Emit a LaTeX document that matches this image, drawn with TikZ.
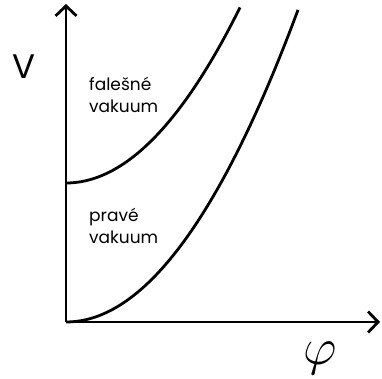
\documentclass[tikz,border=0pt]{standalone}
\usepackage{fix-cm}
\usepackage{graphicx}
\usepackage{fontspec}
\usepackage{tikz}
\usetikzlibrary{positioning,arrows.meta}
\newfontfamily\labelfont{Poppins}
\tikzset{
  axisarrow/.style={-{Straight Barb[length=10pt, width=21pt, line width=2.8pt]}, line width=2.8pt},
  potcurve/.style={line width=2.8pt, smooth},
  textlabel/.style={font=\labelfont\fontsize{17}{22}\selectfont, align=left, anchor=west, inner sep=0pt}
}
\begin{document}
\begin{tikzpicture}[x=1pt, y=1pt]
  \useasboundingbox (-66,-57) rectangle (316,322);
  \coordinate (O) at (0,0);
  \coordinate (ytop) at (0,318);
  \coordinate (xend) at (314,0);
  % axes
  \draw[axisarrow] (O) -- (ytop);
  \draw[axisarrow] (O) -- (xend);
  % potentials
  \draw[potcurve] plot[domain=0:174, samples=40] (\x, {139+0.0058*\x*\x});
  \draw[potcurve] plot[domain=0:232, samples=40] (\x, {0.0058*\x*\x});
  \node[font=\labelfont\fontsize{34}{34}\selectfont, inner sep=0pt] (vlab) at (-42,255) {V};
  \node[font=\fontsize{52}{52}\selectfont, inner sep=0pt] (philab) at (254,-36) {$\varphi$};
  \node[textlabel] (fv) at (23,227) {falešné\\vakuum};
  \node[textlabel] (pv) at (23,96) {pravé\\vakuum};
\end{tikzpicture}
\end{document}
